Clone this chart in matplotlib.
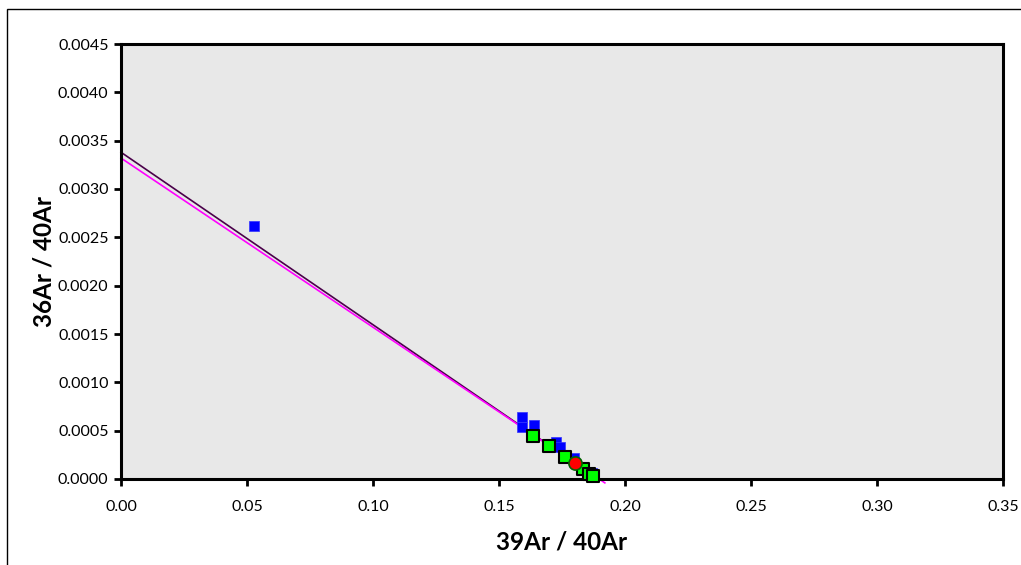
import matplotlib
matplotlib.use("Agg")
import matplotlib.pyplot as plt
from matplotlib.patches import Rectangle

plt.rcParams['font.family'] = ['Lato', 'DejaVu Sans']

# Data
blue_x = [0.0528, 0.1590, 0.1590, 0.1639, 0.1726, 0.1742, 0.1798, 0.1870]
blue_y = [0.00262, 0.00064, 0.00054, 0.00056, 0.00038, 0.00033, 0.00022, 0.00006]
green_x = [0.1635, 0.1700, 0.1762, 0.1833, 0.1857, 0.1873]
green_y = [0.00045, 0.00034, 0.00023, 0.00010, 0.00005, 0.00003]
red_x = [0.1802]
red_y = [0.00017]
fit_black_x = [0.0, 0.1900]
fit_black_y = [0.00338, -0.00001]
fit_magenta_x = [0.0, 0.1920]
fit_magenta_y = [0.00332, -0.00004]

xticks = [0.00, 0.05, 0.10, 0.15, 0.20, 0.25, 0.30, 0.35]
yticks = [0.0, 0.0005, 0.0010, 0.0015, 0.0020, 0.0025, 0.0030, 0.0035, 0.0040, 0.0045]

fig = plt.figure(figsize=(10.21, 5.65), dpi=100)
ax = fig.add_axes([121/1021, 1 - 479/565, (1003-121)/1021, (479-44)/565])
ax.set_facecolor('#E8E8E8')

ax.plot(fit_black_x, fit_black_y, color='#4a004a', lw=1.2, clip_on=False, zorder=2)
ax.plot(fit_magenta_x, fit_magenta_y, color='#FF00FF', lw=1.2, clip_on=False, zorder=2)

ax.scatter(blue_x, blue_y, marker='s', s=55, color='#0000FF', edgecolors='#3333FF',
           linewidths=0.5, zorder=3, clip_on=False)
ax.scatter(green_x, green_y, marker='s', s=70, color='#00FF00', edgecolors='black',
           linewidths=1.5, zorder=4, clip_on=False)
ax.scatter(red_x, red_y, marker='o', s=90, color='#FF0000', edgecolors='#006400',
           linewidths=1.2, zorder=5, clip_on=False)

ax.set_xlim(0, 0.35)
ax.set_ylim(0, 0.0045)
ax.set_xticks(xticks)
ax.set_xticklabels([f"{v:.2f}" for v in xticks])
ax.set_yticks(yticks)
ax.set_yticklabels([f"{v:.4f}" for v in yticks])
for s in ax.spines.values():
    s.set_linewidth(2.2)
    s.set_color('black')
ax.tick_params(direction='out', length=5, width=2, labelsize=11.5, pad=4)
ax.tick_params(axis='x', pad=10)

ax.set_xlabel('39Ar / 40Ar', fontsize=17.5, fontweight='bold', labelpad=12)
ax.set_ylabel('36Ar / 40Ar', fontsize=17.5, fontweight='bold', labelpad=2)

fig.patches.append(Rectangle((7/1021, -0.5), 2.0, 0.5 + (565-9)/565,
                             transform=fig.transFigure, fill=False,
                             edgecolor='black', lw=1.0))

fig.savefig('out.png', dpi=100)
